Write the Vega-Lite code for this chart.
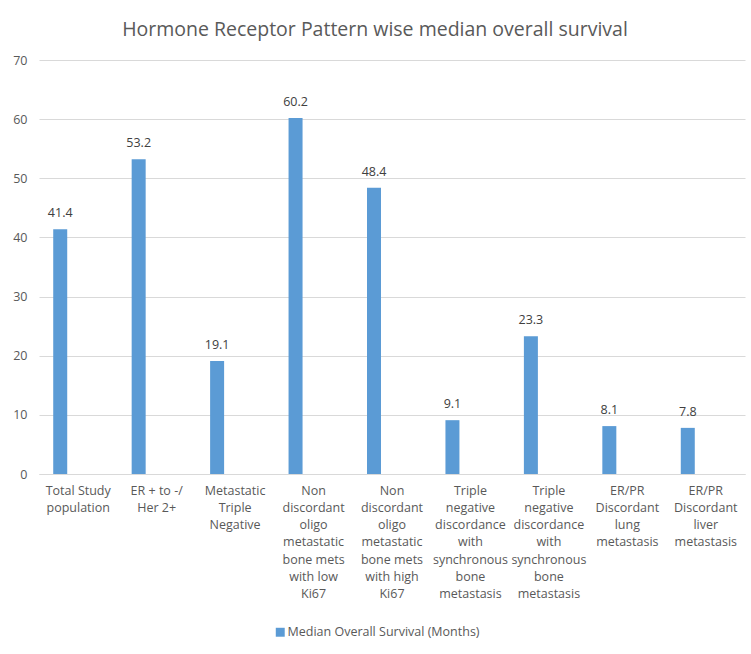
{
  "$schema": "https://vega.github.io/schema/vega-lite/v6.json",
  "width": 706,
  "height": 414,
  "autosize": {"type": "none"},
  "padding": {"left": 39, "top": 60, "right": 6, "bottom": 180},
  "background": "white",
  "title": {
    "text": "Hormone Receptor Pattern wise median overall survival",
    "font": "Open Sans",
    "fontSize": 19.5,
    "fontWeight": "normal",
    "color": "#595959",
    "anchor": "middle",
    "dx": -17,
    "offset": 14
  },
  "data": {
    "values": [
      {"category": "Total Study|population", "value": 41.4, "series": "Median Overall Survival (Months)"},
      {"category": "ER + to -/|Her 2+", "value": 53.2, "series": "Median Overall Survival (Months)"},
      {"category": "Metastatic|Triple|Negative", "value": 19.1, "series": "Median Overall Survival (Months)"},
      {"category": "Non|discordant|oligo|metastatic|bone mets|with low|Ki67", "value": 60.2, "series": "Median Overall Survival (Months)"},
      {"category": "Non|discordant|oligo|metastatic|bone mets|with high|Ki67", "value": 48.4, "series": "Median Overall Survival (Months)"},
      {"category": "Triple|negative|discordance|with|synchronous|bone|metastasis", "value": 9.1, "series": "Median Overall Survival (Months)"},
      {"category": "Triple|negative|discordance|with|synchronous|bone|metastasis ", "value": 23.3, "series": "Median Overall Survival (Months)"},
      {"category": "ER/PR|Discordant|lung|metastasis", "value": 8.1, "series": "Median Overall Survival (Months)"},
      {"category": "ER/PR|Discordant|liver|metastasis", "value": 7.8, "series": "Median Overall Survival (Months)"}
    ]
  },
  "encoding": {
    "x": {
      "field": "category",
      "type": "nominal",
      "sort": null,
      "scale": {"paddingInner": 0, "paddingOuter": 0},
      "axis": {
        "title": null,
        "labelAngle": 0,
        "labelExpr": "split(datum.value, '|')",
        "labelFont": "Open Sans",
        "labelFontSize": 12.5,
        "labelLineHeight": 17.3,
        "labelColor": "#595959",
        "labelPadding": 10,
        "labelBaseline": "top",
        "labelLimit": 0,
        "ticks": false,
        "domainColor": "#D9D9D9",
        "grid": false
      }
    },
    "y": {
      "field": "value",
      "type": "quantitative",
      "scale": {"domain": [0, 70]},
      "axis": {
        "title": null,
        "values": [0, 10, 20, 30, 40, 50, 60, 70],
        "labelFont": "Open Sans",
        "labelFontSize": 12.5,
        "labelColor": "#595959",
        "labelPadding": 12,
        "ticks": false,
        "domain": false,
        "gridColor": "#D9D9D9"
      }
    }
  },
  "layer": [
    {
      "mark": {"type": "bar", "width": 14, "xOffset": -18, "color": "#5B9BD5"},
      "encoding": {
        "color": {
          "field": "series",
          "type": "nominal",
          "scale": {"range": ["#5B9BD5"]},
          "legend": {
            "title": null,
            "orient": "none",
            "legendX": 235,
            "legendY": 566,
            "symbolType": "square",
            "symbolSize": 80,
            "symbolStrokeWidth": 0,
            "labelFont": "Open Sans",
            "labelFontSize": 12.5,
            "labelColor": "#595959",
            "labelOffset": 1,
            "labelLimit": 0
          }
        }
      }
    },
    {
      "mark": {"type": "text", "xOffset": -18, "dy": -9, "baseline": "bottom", "font": "Open Sans", "fontSize": 12.5, "color": "#404040"},
      "encoding": {
        "text": {"field": "value", "type": "quantitative", "format": ".1f"}
      }
    }
  ],
  "config": {
    "view": {"stroke": null}
  }
}
